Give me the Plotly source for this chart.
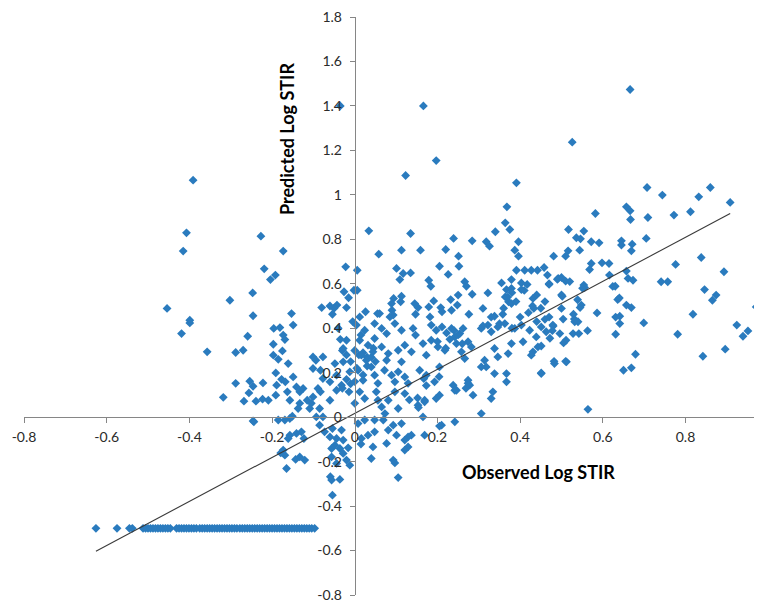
import plotly.graph_objects as go

# ---- data (Observed Log STIR, Predicted Log STIR) ----
upper_points = [
    (0.666, 1.474), (0.166, 1.40), (-0.035, 1.40), (0.526, 1.237), (0.197, 1.154),
    (0.123, 1.087), (-0.391, 1.066), (0.391, 1.054), (0.707, 1.033), (0.86, 1.033),
    (0.744, 0.999), (0.832, 0.991), (0.908, 0.966), (0.368, 0.946), (0.657, 0.946),
    (0.666, 0.928), (0.582, 0.916), (0.667, 0.889), (0.709, 0.898), (0.772, 0.909),
    (0.812, 0.924), (0.364, 0.874), (0.375, 0.844), (0.340, 0.834), (0.034, 0.838),
    (0.135, 0.826), (-0.407, 0.829), (-0.227, 0.814), (0.517, 0.844), (0.554, 0.837),
    (0.536, 0.807), (0.546, 0.802), (0.572, 0.789), (0.591, 0.784), (0.645, 0.793),
    (0.645, 0.774), (0.671, 0.778), (0.669, 0.748), (0.705, 0.804), (0.239, 0.804),
    (0.284, 0.793), (0.318, 0.789), (0.326, 0.769), (0.396, 0.789), (0.387, 0.751),
    (0.396, 0.724), (-0.415, 0.747), (-0.173, 0.747), (0.058, 0.733), (0.113, 0.751),
    (0.159, 0.751), (0.22, 0.754), (0.251, 0.724), (0.544, 0.751), (0.516, 0.748),
    (0.51, 0.724), (0.481, 0.724),
]

high_points = [
    (0.205, 0.679), (0.252, 0.679), (0.226, 0.642), (0.006, 0.661), (0.101, 0.669),
    (0.117, 0.646), (0.135, 0.649), (0.109, 0.619), (0.179, 0.616), (0.184, 0.589),
    (0.266, 0.609), (0.27, 0.589), (0.284, 0.553), (0.322, 0.559), (0.355, 0.604),
    (0.379, 0.619), (0.391, 0.661), (0.411, 0.661), (0.427, 0.661), (0.442, 0.661),
    (0.458, 0.673), (0.466, 0.639), (0.403, 0.604), (0.417, 0.597), (0.403, 0.574),
    (0.367, 0.574), (0.379, 0.579), (0.47, 0.597), (0.492, 0.624), (0.006, 0.571),
    (-0.022, 0.676), (-0.026, 0.564), (-0.015, 0.537), (-0.002, 0.571), (-0.219, 0.667),
    (-0.204, 0.619), (-0.192, 0.639), (-0.302, 0.526), (-0.247, 0.559),
    (0.572, 0.691), (0.568, 0.664), (0.598, 0.694), (0.615, 0.691), (0.616, 0.639),
    (0.657, 0.657), (0.661, 0.624), (0.673, 0.616), (0.776, 0.687), (0.838, 0.718),
    (0.893, 0.654), (0.741, 0.609), (0.757, 0.609), (0.5, 0.628), (0.51, 0.612),
    (0.554, 0.594), (0.556, 0.583), (0.630, 0.589), (0.624, 0.588), (0.551, 0.58),
    (0.52, 0.61), (0.49, 0.62), (0.47, 0.60),
]

mid_points = [
    (0.364, 0.541), (0.372, 0.519), (0.379, 0.511), (0.431, 0.534), (0.433, 0.489),
    (0.094, 0.534), (0.113, 0.544), (0.111, 0.519), (0.089, 0.511), (0.090, 0.481),
    (0.093, 0.459), (0.085, 0.451), (0.145, 0.511), (0.153, 0.493), (0.147, 0.463),
    (0.191, 0.523), (0.179, 0.496), (0.208, 0.493), (0.211, 0.474), (0.232, 0.529),
    (0.25, 0.549), (0.248, 0.504), (0.234, 0.481), (0.276, 0.463), (0.31, 0.489),
    (0.338, 0.454), (0.358, 0.463), (0.026, 0.474), (0.012, 0.451), (0.055, 0.466),
    (0.182, 0.451), (0.502, 0.544), (0.636, 0.529), (0.846, 0.574), (0.874, 0.549),
    (0.865, 0.526), (0.548, 0.504), (0.657, 0.504), (0.669, 0.493), (0.586, 0.469),
    (0.641, 0.454), (0.818, 0.463), (0.971, 0.496), (0.529, 0.463), (0.5, 0.489),
    (-0.454, 0.489), (-0.246, 0.456), (-0.153, 0.466), (-0.080, 0.493), (-0.054, 0.463),
    (-0.043, 0.504), (-0.020, 0.493), (0.06, 0.466), (0.64, 0.536), (0.631, 0.45),
    (0.539, 0.528), (0.545, 0.493), (0.504, 0.441), (0.531, 0.441),
    (0.37, 0.54), (0.38, 0.56), (0.41, 0.57), (0.44, 0.55), (0.46, 0.52), (0.50, 0.55),
    (0.43, 0.50), (0.39, 0.52), (0.36, 0.49), (0.45, 0.49),
]

right_points = [
    (0.532, 0.429), (0.54, 0.429), (0.528, 0.376), (0.542, 0.376), (0.505, 0.334),
    (0.512, 0.249), (0.496, 0.376), (0.641, 0.421), (0.631, 0.373), (0.699, 0.424),
    (0.679, 0.283), (0.65, 0.211), (0.669, 0.222), (0.564, 0.035), (0.781, 0.373),
    (0.842, 0.274), (0.896, 0.306), (0.924, 0.414), (0.939, 0.364), (0.951, 0.388),
    (0.511, 0.346), (0.482, 0.251), (0.51, 0.251), (0.451, 0.199), (0.431, 0.294),
    (0.451, 0.32), (0.472, 0.355), (0.478, 0.389), (0.563, 0.389),
]

left_points = [
    (-0.399, 0.436), (-0.399, 0.424), (-0.419, 0.376), (-0.357, 0.294), (-0.259, 0.364),
    (-0.288, 0.291), (-0.270, 0.301), (-0.318, 0.089), (-0.288, 0.152), (-0.254, 0.162),
    (-0.246, 0.139), (-0.256, 0.109), (-0.268, 0.072), (-0.239, 0.072), (-0.222, 0.154),
    (-0.223, 0.081), (-0.209, 0.076), (-0.246, -0.017), (-0.196, 0.399), (-0.181, 0.403),
    (-0.173, 0.369), (-0.169, 0.349), (-0.149, 0.414), (-0.197, 0.328), (-0.175, 0.298),
    (-0.197, 0.279), (-0.185, 0.26), (-0.161, 0.241), (-0.191, 0.199), (-0.177, 0.17),
    (-0.168, 0.159), (-0.189, 0.144), (-0.149, 0.181), (-0.141, 0.136), (-0.133, 0.114),
    (-0.163, 0.114), (-0.157, 0.076), (-0.191, 0.099), (-0.125, 0.129), (-0.133, 0.062),
    (-0.137, 0.039), (-0.115, 0.076), (-0.101, 0.271), (-0.101, 0.219), (-0.094, 0.256),
    (-0.077, 0.271), (-0.083, 0.211), (-0.077, 0.174), (-0.089, 0.129), (-0.083, 0.114),
    (-0.101, 0.091), (-0.105, 0.062), (-0.109, 0.039), (-0.085, 0.039), (-0.06, 0.076),
    (-0.093, 0.001), (-0.077, 0.001), (-0.048, 0.241), (-0.044, 0.189), (-0.060, 0.159),
    (-0.032, 0.144), (-0.044, 0.121), (-0.028, 0.309), (-0.02, 0.346), (-0.028, 0.249),
    (-0.012, 0.204), (-0.014, 0.114), (-0.151, 0.004), (-0.157, -0.006), (-0.169, -0.013),
    (-0.185, -0.013), (-0.244, -0.021),
]

axis_points = [
    (-0.03, 0.30), (-0.02, 0.28), (0.0, 0.30), (0.01, 0.28), (0.02, 0.29), (0.03, 0.27),
    (-0.01, 0.25), (0.005, 0.22), (-0.02, 0.17), (-0.03, 0.13), (-0.01, 0.15), (0.0, 0.16),
    (0.02, 0.19), (0.03, 0.23), (0.04, 0.27), (0.045, 0.31), (0.05, 0.25), (-0.035, 0.35),
    (-0.04, 0.40), (-0.005, 0.43), (0.015, 0.37), (-0.05, 0.49), (-0.06, 0.50),
]

center_points = [
    (0.004, 0.414), (0.024, 0.391), (0.048, 0.421), (0.065, 0.399), (0.077, 0.376),
    (0.097, 0.421), (0.113, 0.391), (0.141, 0.399), (0.147, 0.369), (0.185, 0.414),
    (0.197, 0.391), (0.211, 0.406), (0.222, 0.379), (0.234, 0.399), (0.242, 0.361),
    (0.254, 0.376), (0.262, 0.399), (0.306, 0.399), (0.322, 0.414), (0.33, 0.384),
    (0.346, 0.406), (0.363, 0.421), (0.387, 0.399), (0.403, 0.414), (0.423, 0.391),
    (0.439, 0.361), (0.451, 0.406), (0.463, 0.384), (0.479, 0.414),
    (0.012, 0.346), (0.032, 0.324), (0.048, 0.354), (0.044, 0.294), (0.016, 0.279),
    (0.028, 0.256), (0.065, 0.316), (0.081, 0.286), (0.077, 0.256), (0.105, 0.301),
    (0.121, 0.324), (0.137, 0.294), (0.113, 0.249), (0.165, 0.331), (0.173, 0.279),
    (0.185, 0.346), (0.201, 0.316), (0.218, 0.301), (0.246, 0.331), (0.258, 0.294),
    (0.274, 0.339), (0.282, 0.316), (0.266, 0.264), (0.314, 0.256), (0.318, 0.226),
    (0.338, 0.309), (0.346, 0.271), (0.371, 0.286), (0.379, 0.331), (0.407, 0.339),
    (0.427, 0.279), (0.443, 0.316), (0.483, 0.241),
    (0.24, 0.39), (0.25, 0.37), (0.23, 0.35), (0.26, 0.33), (0.22, 0.31), (0.2, 0.34),
    (0.31, 0.41), (0.33, 0.45), (0.35, 0.42), (0.38, 0.40), (0.40, 0.45), (0.42, 0.47),
    (0.44, 0.43), (0.47, 0.45), (0.46, 0.44), (0.48, 0.41),
]

low_points = [
    (0.008, 0.211), (0.02, 0.166), (0.04, 0.226), (0.048, 0.189), (0.056, 0.152),
    (0.072, 0.211), (0.089, 0.189), (0.105, 0.204), (0.121, 0.181), (0.097, 0.159),
    (0.129, 0.152), (0.157, 0.211), (0.173, 0.189), (0.193, 0.159), (0.205, 0.226),
    (0.238, 0.144), (0.246, 0.121), (0.274, 0.166), (0.278, 0.144), (0.306, 0.226),
    (0.338, 0.196), (0.367, 0.159), (0.367, 0.196), (0.451, 0.196), (0.204, 0.182),
    (0.173, 0.142), (0.167, 0.173), (0.269, 0.13),
    (0.012, 0.114), (0.0, 0.062), (0.024, 0.084), (0.052, 0.114), (0.056, 0.076),
    (0.065, 0.046), (0.073, 0.016), (0.081, 0.076), (0.097, 0.114), (0.105, 0.039),
    (0.121, 0.106), (0.153, 0.054), (0.169, 0.076), (0.205, 0.099), (0.242, 0.121),
    (0.286, 0.099), (0.334, 0.114), (0.33, 0.084), (0.306, 0.016), (0.197, 0.084),
    (0.169, 0.069), (0.274, 0.152), (0.165, 0.001), (0.152, 0.086), (0.132, 0.078),
    (0.154, 0.043),
]

negative_points = [
    (-0.157, -0.081), (-0.141, -0.073), (-0.129, -0.066), (-0.123, -0.096), (-0.161, -0.096),
    (-0.173, -0.148), (-0.179, -0.161), (-0.169, -0.171), (-0.143, -0.190), (-0.121, -0.193),
    (-0.133, -0.179), (-0.165, -0.231), (-0.085, -0.036), (-0.073, -0.066), (-0.06, -0.089),
    (-0.054, -0.051), (-0.044, -0.096), (-0.032, -0.058), (-0.028, -0.103), (-0.048, -0.126),
    (-0.056, -0.141), (-0.036, -0.141), (-0.028, -0.163), (-0.056, -0.179), (-0.02, -0.193),
    (-0.044, -0.208), (-0.012, -0.216), (-0.054, -0.351), (-0.059, -0.268), (-0.036, -0.28),
    (-0.056, -0.283), (-0.016, -0.138),
    (0.024, -0.013), (0.008, -0.029), (0.048, -0.013), (0.069, -0.013), (0.081, -0.058),
    (0.048, -0.066), (0.093, -0.036), (0.101, -0.081), (0.113, -0.029), (0.129, -0.089),
    (0.169, -0.081), (0.21, -0.036), (0.242, -0.021), (0.032, -0.081), (0.016, -0.096),
    (0.044, -0.134), (0.077, -0.118), (0.121, -0.103), (0.129, -0.134), (0.121, -0.148),
    (0.04, -0.186), (0.093, -0.193), (0.097, -0.206), (0.105, -0.272), (0.205, -0.04),
    (0.137, -0.081), (0.015, -0.121),
]

floor_observed = [
    -0.626, -0.575, -0.545, -0.538, -0.512, -0.506, -0.500, -0.494, -0.488, -0.482,
    -0.476, -0.470, -0.464, -0.458, -0.452, -0.446, -0.431, -0.425, -0.419, -0.413,
    -0.407, -0.401, -0.395, -0.389, -0.383, -0.375, -0.369, -0.363, -0.357, -0.351,
    -0.345, -0.339, -0.333, -0.327, -0.321, -0.315, -0.309, -0.303, -0.297, -0.291,
    -0.285, -0.278, -0.272, -0.266, -0.260, -0.254, -0.248, -0.242, -0.236, -0.230,
    -0.224, -0.218, -0.212, -0.206, -0.200, -0.194, -0.188, -0.182, -0.176, -0.170,
    -0.164, -0.158, -0.152, -0.146, -0.140, -0.134, -0.128, -0.122, -0.116, -0.110,
    -0.104, -0.097,
]
floor_predicted = [-0.5] * len(floor_observed)

# linear trendline
trend_x = [-0.626, 0.908]
trend_slope = 0.990
trend_intercept = 0.017

x_ticks = [-0.8, -0.6, -0.4, -0.2, 0, 0.2, 0.4, 0.6, 0.8]
x_tick_labels = ["-0.8", "-0.6", "-0.4", "-0.2", "0", "0.2", "0.4", "0.6", "0.8"]
y_ticks = [-0.8, -0.6, -0.4, -0.2, 0, 0.2, 0.4, 0.6, 0.8, 1.0, 1.2, 1.4, 1.6, 1.8]
y_tick_labels = ["-0.8", "-0.6", "-0.4", "-0.2", "0", "0.2", "0.4", "0.6", "0.8",
                 "1", "1.2", "1.4", "1.6", "1.8"]
x_range = [-0.8, 0.985]
y_range = [-0.8, 1.8]

# ---- build ----
groups = [upper_points, high_points, mid_points, right_points, left_points,
          axis_points, center_points, low_points, negative_points]
obs = [p[0] for g in groups for p in g] + floor_observed
pred = [p[1] for g in groups for p in g] + floor_predicted

trend_y = [trend_slope * v + trend_intercept for v in trend_x]

fig = go.Figure()
fig.add_trace(go.Scatter(
    x=obs, y=pred, mode="markers",
    marker=dict(symbol="diamond", size=6.8, color="#2A7BBE", line=dict(width=0)),
    showlegend=False,
))
fig.add_trace(go.Scatter(
    x=trend_x, y=trend_y, mode="lines",
    line=dict(color="#3a3a3a", width=1.1),
    showlegend=False,
))

axis_color = "#868686"
tick_font = dict(family="Lato, Carlito, sans-serif", size=14, color="#2b2b2b")
title_font = dict(family="Lato, Carlito, sans-serif", size=18, color="black")

# the page body adds an 8px offset; the figure is sized so the plot area
# lands at x 24..762, y 17..595 of the window
fig.update_layout(
    width=754, height=595,
    margin=dict(l=16, r=0, t=9, b=8),
    paper_bgcolor="white", plot_bgcolor="white",
    xaxis=dict(
        range=x_range, showgrid=False, zeroline=False, automargin=False,
        showline=True, linecolor=axis_color, linewidth=1,
        ticks="outside", ticklen=5, tickcolor=axis_color, tickwidth=1,
        tickvals=x_ticks, ticktext=x_tick_labels, tickfont=tick_font,
        ticklabelstandoff=2, ticklabeloverflow="allow",
        anchor="free", position=(0 - y_range[0]) / (y_range[1] - y_range[0]),
    ),
    yaxis=dict(
        range=y_range, showgrid=False, zeroline=False, automargin=False,
        showline=True, linecolor=axis_color, linewidth=1,
        ticks="outside", ticklen=5, tickcolor=axis_color, tickwidth=1,
        tickvals=y_ticks, ticktext=y_tick_labels, tickfont=tick_font,
        ticklabelstandoff=5, ticklabeloverflow="allow",
        anchor="free", position=(0 - x_range[0]) / (x_range[1] - x_range[0]),
    ),
    annotations=[
        dict(text="<b>Predicted Log STIR</b>", textangle=-90,
             x=(287 - 24) / 738, y=(595 - 139) / 578,
             xref="paper", yref="paper", xanchor="center", yanchor="middle",
             showarrow=False, font=title_font),
        dict(text="<b>Observed Log STIR</b>",
             x=(538 - 24) / 738, y=(595 - 472) / 578,
             xref="paper", yref="paper", xanchor="center", yanchor="middle",
             showarrow=False, font=title_font),
    ],
)

fig.write_html("out.html")
